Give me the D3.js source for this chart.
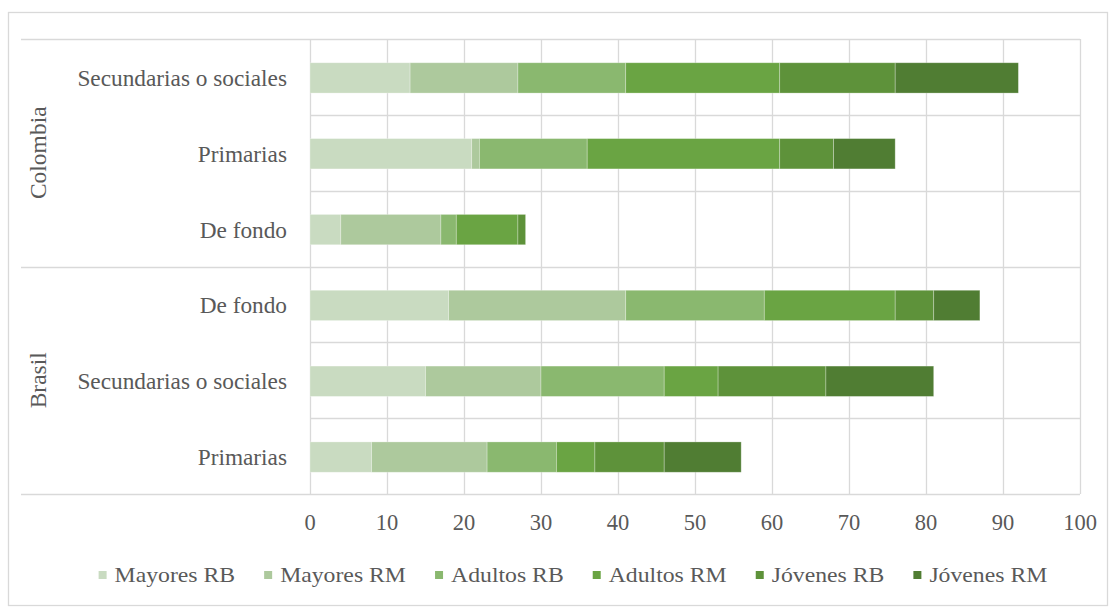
<!DOCTYPE html>
<html>
<head>
<meta charset="utf-8">
<script src="https://cdn.jsdelivr.net/npm/d3@7/dist/d3.min.js"></script>
<style>
  html, body { margin: 0; padding: 0; background: #ffffff; }
  svg { display: block; }
  text { font-family: "Liberation Serif", "Times New Roman", serif; fill: #595959; }
</style>
</head>
<body>
<svg id="chart" width="1116" height="608"></svg>
<script>
// ---- data ----
const countries = ["Colombia", "Colombia", "Colombia", "Brasil", "Brasil", "Brasil"];
const categories = ["Secundarias o sociales", "Primarias", "De fondo", "De fondo", "Secundarias o sociales", "Primarias"];
const seriesNames = ["Mayores RB", "Mayores RM", "Adultos RB", "Adultos RM", "Jóvenes RB", "Jóvenes RM"];
const mayoresRB = [13, 21, 4, 18, 15, 8];
const mayoresRM = [14, 1, 13, 23, 15, 15];
const adultosRB = [14, 14, 2, 18, 16, 9];
const adultosRM = [20, 25, 8, 17, 7, 5];
const jovenesRB = [15, 7, 1, 5, 14, 9];
const jovenesRM = [16, 8, 0, 6, 14, 10];
const xTicks = [0, 10, 20, 30, 40, 50, 60, 70, 80, 90, 100];
const colors = ["#c9dbc1", "#adc99d", "#8ab86f", "#6aa443", "#5e923a", "#507d33"];

const seriesValues = [mayoresRB, mayoresRM, adultosRB, adultosRM, jovenesRB, jovenesRM];
const rows = categories.map((c, i) => {
  const r = { key: countries[i] + "|" + c + "|" + i, country: countries[i], category: c };
  seriesNames.forEach((s, j) => { r[s] = seriesValues[j][i]; });
  return r;
});

const svg = d3.select("#chart");
const plot = { left: 310, right: 1080, top: 39, bottom: 494 };
const gridColor = "#d9d9d9";

// outer border
svg.append("rect").attr("x", 8.5).attr("y", 12.5).attr("width", 1099).attr("height", 593)
  .attr("fill", "#fff").attr("stroke", gridColor).attr("stroke-width", 1.3);

const x = d3.scaleLinear().domain([0, 100]).range([plot.left, plot.right]);
const y = d3.scaleBand().domain(rows.map(r => r.key)).range([plot.top, plot.bottom]).padding(0);

// vertical gridlines
svg.append("g").selectAll("line").data(xTicks).join("line")
  .attr("x1", d => Math.round(x(d)) + 0.5).attr("x2", d => Math.round(x(d)) + 0.5)
  .attr("y1", plot.top).attr("y2", plot.bottom)
  .attr("stroke", gridColor).attr("stroke-width", 1.3);

// horizontal category separators
const boundaries = d3.range(rows.length + 1).map(i => plot.top + i * y.step());
svg.append("g").selectAll("line").data(boundaries).join("line")
  .attr("x1", (d, i) => (i === 0 || i === 3 || i === rows.length) ? 21 : plot.left)
  .attr("x2", plot.right)
  .attr("y1", d => Math.round(d) + 0.5).attr("y2", d => Math.round(d) + 0.5)
  .attr("stroke", gridColor).attr("stroke-width", 1.3);

// stacked bars
const stacked = d3.stack().keys(seriesNames)(rows);
const barH = y.bandwidth() * 0.4;
svg.append("g").selectAll("g").data(stacked).join("g")
  .attr("fill", (d, i) => colors[i])
  .selectAll("rect").data(d => d).join("rect")
  .attr("x", d => x(d[0]))
  .attr("width", d => Math.max(0, x(d[1]) - x(d[0])))
  .attr("y", d => y(d.data.key) + (y.bandwidth() - barH) / 2 + 1)
  .attr("height", barH)
  .attr("stroke", "rgba(255,255,255,0.35)").attr("stroke-width", 0.8);

// x axis tick labels
svg.append("g").selectAll("text").data(xTicks).join("text")
  .attr("x", d => x(d)).attr("y", 522)
  .attr("text-anchor", "middle").attr("dominant-baseline", "central")
  .attr("font-size", "22.5px").text(d => d);

// category labels
svg.append("g").selectAll("text").data(rows).join("text")
  .attr("x", 287).attr("y", d => y(d.key) + y.bandwidth() / 2 + 1)
  .attr("text-anchor", "end").attr("dominant-baseline", "central")
  .attr("font-size", "23.3px").text(d => d.category);

// country labels
d3.groups(rows, r => r.country).forEach(([country, rs]) => {
  const y0 = y(rs[0].key), y1 = y(rs[rs.length - 1].key) + y.bandwidth();
  svg.append("text")
    .attr("transform", `translate(38,${(y0 + y1) / 2}) rotate(-90)`)
    .attr("text-anchor", "middle").attr("dominant-baseline", "central")
    .attr("font-size", "23.5px").text(country);
});

// legend
const sx = 1.13;
const legend = svg.append("g");
const items = legend.selectAll("g").data(seriesNames).join("g");
items.append("rect").attr("width", 8).attr("height", 8).attr("y", -4)
  .attr("fill", (d, i) => colors[i]);
items.append("g").attr("transform", `translate(16,0) scale(${sx},1)`)
  .append("text").attr("dominant-baseline", "central")
  .attr("font-size", "21px").text(d => d);
const widths = [];
items.each(function () { widths.push(16 + d3.select(this).select("text").node().getBBox().width * sx); });
const gap = 29;
const total = d3.sum(widths) + gap * (widths.length - 1);
let cx = 573 - total / 2;
items.attr("transform", (d, i) => {
  const t = `translate(${cx},575)`;
  cx += widths[i] + gap;
  return t;
});
</script>
</body>
</html>
